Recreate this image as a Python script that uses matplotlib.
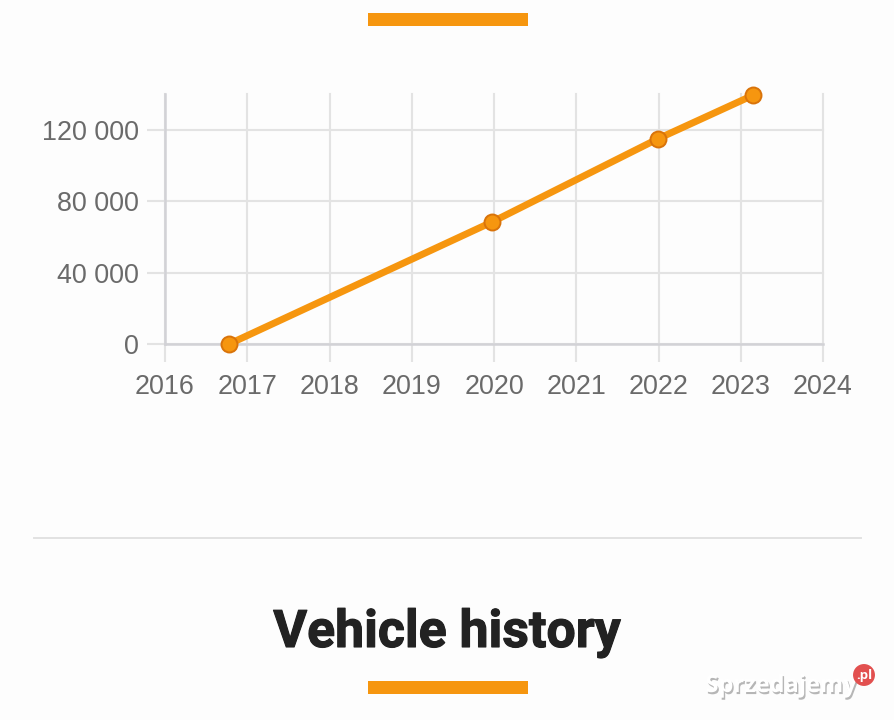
import matplotlib
matplotlib.use("Agg")
import matplotlib.pyplot as plt
from matplotlib.patches import Rectangle
from matplotlib.lines import Line2D
import matplotlib.patheffects as pe

years = [2016.78, 2019.98, 2021.99, 2023.15]
mileage = [0, 68500, 115000, 139500]
x_ticks = [2016, 2017, 2018, 2019, 2020, 2021, 2022, 2023, 2024]
y_ticks = [0, 40000, 80000, 120000]
y_labels = ["0", "40 000", "80 000", "120 000"]
title = "Vehicle history"
watermark = "Sprzedajemy"
watermark_tld = ".pl"

W, H = 895, 720
BG = "#fdfdfd"
ORANGE = "#f6960f"
GRID = "#e3e3e3"
AXIS = "#d2d2d6"
TXT = "#6a6a6a"

fig = plt.figure(figsize=(W / 100, H / 100), dpi=100, facecolor=BG)

def fx(px): return px / W
def fy(py): return 1 - py / H

ax = fig.add_axes([fx(165), fy(344), fx(823) - fx(165), fy(94) - fy(344)], facecolor="none")
ax.set_xlim(2016, 2024)
ax.set_ylim(0, 250 / 214 * 120000)
for s in ax.spines.values():
    s.set_visible(False)
ax.set_xticks(x_ticks)
ax.set_yticks(y_ticks, y_labels)
ax.grid(True, color=GRID, lw=1.5, clip_on=False)
ax.set_axisbelow(True)
ax.tick_params(axis="both", length=13, width=1.5, color=GRID, labelcolor=TXT, labelsize=19.4,
               labelfontfamily="Liberation Sans")
ax.tick_params(axis="x", pad=8.5)
ax.tick_params(axis="y", pad=5.5)
ax.axhline(0, color=AXIS, lw=1.8, clip_on=False, zorder=1)
ax.axvline(2016, color=AXIS, lw=1.8, clip_on=False, zorder=1)
ax.plot(years, mileage, color=ORANGE, lw=5, marker="o", ms=11.5, mfc=ORANGE, mec="#d9730a",
        mew=1.4, clip_on=False, solid_capstyle="round", zorder=3)

fig.add_artist(Rectangle((fx(368), fy(26)), fx(160), 13 / H, color=ORANGE, lw=0))
fig.add_artist(Rectangle((fx(368), fy(694)), fx(160), 13 / H, color=ORANGE, lw=0))
fig.add_artist(Line2D([fx(34), fx(861)], [fy(538), fy(538)], color="#e2e2e2", lw=1.4))

fig.text(fx(447), fy(647), title, ha="center", va="baseline", fontsize=37.3, fontweight="bold",
         family="Roboto", color="#222222",
         path_effects=[pe.withStroke(linewidth=0.8, foreground="#222222")])

fig.text(fx(781), fy(686), watermark, ha="center", va="center", fontsize=17, fontweight="bold",
         family="Open Sans", color="white",
         path_effects=[pe.withSimplePatchShadow(offset=(1, -1.5), shadow_rgbFace="#999999", alpha=0.7)])
fig.text(fx(864), fy(675), watermark_tld, ha="center", va="center", fontsize=9.5, fontweight="bold",
         family="Open Sans", color="white",
         bbox=dict(boxstyle="circle,pad=0.22", fc="#e2504f", ec="none"))

fig.savefig("out.png", dpi=100, facecolor=BG)
